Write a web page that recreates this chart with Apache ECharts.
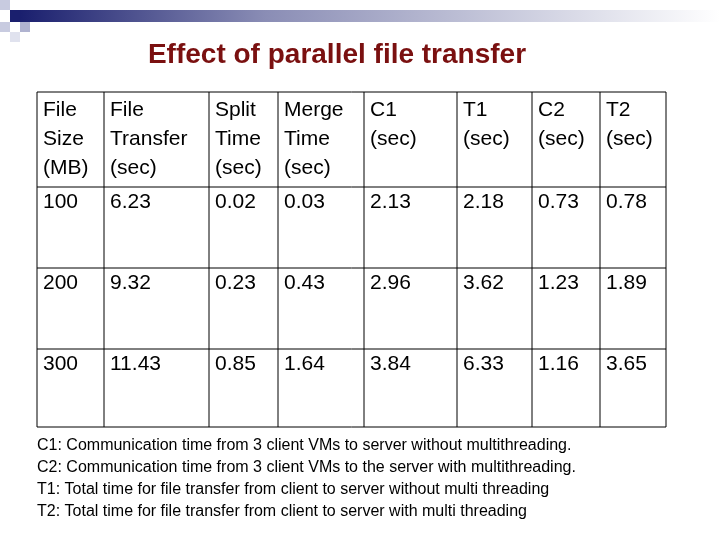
<!DOCTYPE html>
<html><head><meta charset="utf-8">
<script src="https://cdn.jsdelivr.net/npm/echarts@6/dist/echarts.min.js"></script>
<style>html,body{margin:0;padding:0;background:#fff}#c{width:720px;height:540px}</style>
</head><body><div id="c"></div>
<script>
const title = 'Effect of parallel file transfer';
const headers = ['File\nSize\n(MB)','File\nTransfer\n(sec)','Split\nTime\n(sec)','Merge\nTime\n(sec)','C1\n(sec)','T1\n(sec)','C2\n(sec)','T2\n(sec)'];
const fileSize = ['100','200','300'];
const fileTransfer = ['6.23','9.32','11.43'];
const splitTime = ['0.02','0.23','0.85'];
const mergeTime = ['0.03','0.43','1.64'];
const c1 = ['2.13','2.96','3.84'];
const t1 = ['2.18','3.62','6.33'];
const c2 = ['0.73','1.23','1.16'];
const t2 = ['0.78','1.89','3.65'];
const notes = [
 'C1: Communication time from 3 client VMs to server without multithreading.',
 'C2: Communication time from 3 client VMs to the server with multithreading.',
 'T1: Total time for file transfer from client to server without multi threading',
 'T2: Total time for file transfer from client to server with multi threading'
];
const cols = [fileSize,fileTransfer,splitTime,mergeTime,c1,t1,c2,t2];
const colX = [37,104,209,278,364,457,532,600,666];
const rowY = [92,187,268,349,427];
const FF = 'Liberation Sans';
const g = [];
g.push({type:'rect',shape:{x:20,y:10,width:700,height:12},style:{fill:new echarts.graphic.LinearGradient(0,0,1,0,[{offset:0,color:'#1a1f6e'},{offset:0.35,color:'#8a8db5'},{offset:1,color:'#ffffff'}])}});
g.push({type:'rect',shape:{x:0,y:0,width:10,height:10},style:{fill:'#c8cbe0'}});
g.push({type:'rect',shape:{x:10,y:10,width:10,height:12},style:{fill:'#1a1f6e'}});
g.push({type:'rect',shape:{x:0,y:22,width:10,height:10},style:{fill:'#c8cbe0'}});
g.push({type:'rect',shape:{x:20,y:22,width:10,height:10},style:{fill:'#b0b3d0'}});
g.push({type:'rect',shape:{x:10,y:32,width:10,height:10},style:{fill:'#e0e2ee'}});
g.push({type:'text',x:337,y:55,style:{text:title,fontFamily:FF,fontWeight:'bold',fontSize:28,fill:'#7a1010',align:'center',verticalAlign:'middle'}});
g.push({type:'rect',shape:{x:colX[0],y:rowY[0],width:colX[8]-colX[0],height:rowY[4]-rowY[0]},style:{fill:'none',stroke:'#000',lineWidth:1}});
for(let i=1;i<8;i++) g.push({type:'line',shape:{x1:colX[i],y1:rowY[0],x2:colX[i],y2:rowY[4]},style:{stroke:'#000',lineWidth:1}});
for(let j=1;j<4;j++) g.push({type:'line',shape:{x1:colX[0],y1:rowY[j],x2:colX[8],y2:rowY[j]},style:{stroke:'#000',lineWidth:1}});
headers.forEach((h,i)=>g.push({type:'text',x:colX[i]+6,y:rowY[0]+4,style:{text:h,fontFamily:FF,fontSize:21,fill:'#000',lineHeight:29}}));
cols.forEach((col,i)=>col.forEach((v,j)=>g.push({type:'text',x:colX[i]+6,y:rowY[j+1]+5,style:{text:v,fontFamily:FF,fontSize:21,fill:'#000'}})));
notes.forEach((n,i)=>g.push({type:'text',x:37,y:438+i*22,style:{text:n,fontFamily:FF,fontSize:16,fill:'#000'}}));
const chart = echarts.init(document.getElementById('c'));
chart.setOption({animation:false,graphic:g});
</script></body></html>
